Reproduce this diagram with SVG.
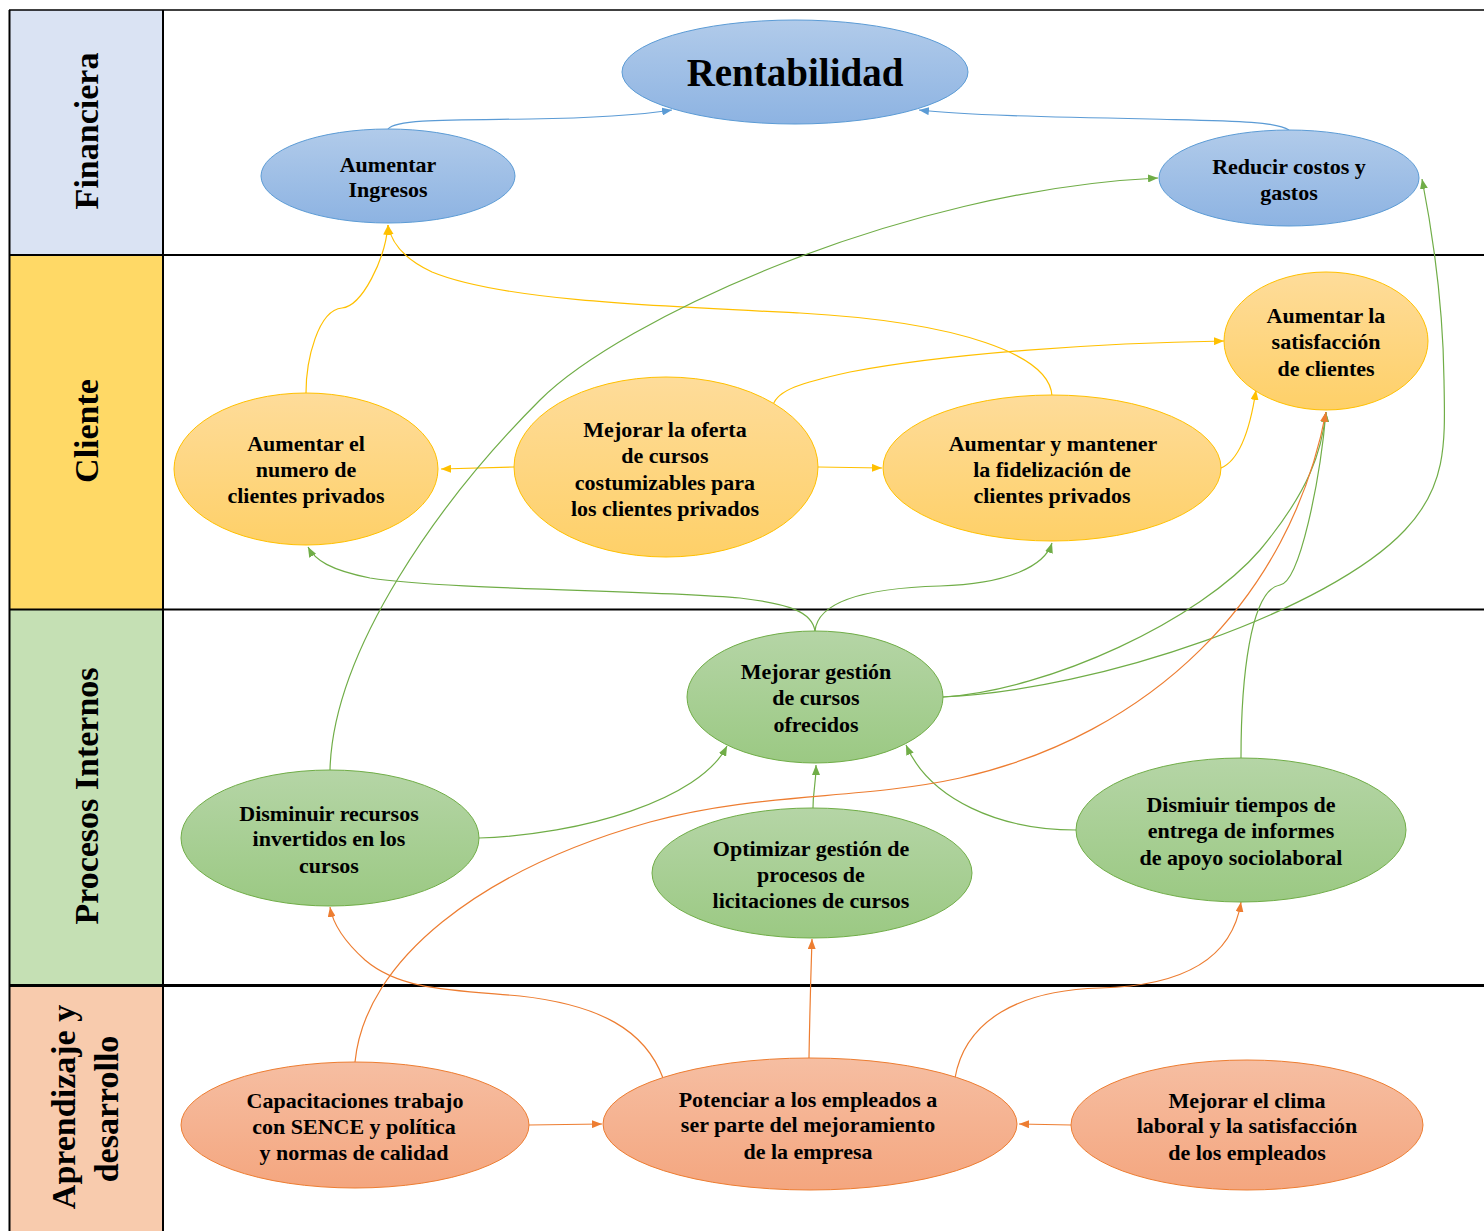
<svg xmlns="http://www.w3.org/2000/svg" width="1484" height="1231" viewBox="0 0 1484 1231">
  <defs>
    <linearGradient id="gBlue" x1="0" y1="0" x2="0" y2="1">
      <stop offset="0" stop-color="#B1CBEA"/>
      <stop offset="1" stop-color="#8DB3E2"/>
    </linearGradient>
    <linearGradient id="gYellow" x1="0" y1="0" x2="0" y2="1">
      <stop offset="0" stop-color="#FEDC9A"/>
      <stop offset="1" stop-color="#FED068"/>
    </linearGradient>
    <linearGradient id="gGreen" x1="0" y1="0" x2="0" y2="1">
      <stop offset="0" stop-color="#B5D5A6"/>
      <stop offset="1" stop-color="#9BC983"/>
    </linearGradient>
    <linearGradient id="gOrange" x1="0" y1="0" x2="0" y2="1">
      <stop offset="0" stop-color="#F6BEA2"/>
      <stop offset="1" stop-color="#F4A67F"/>
    </linearGradient>
    <marker id="aBlue" viewBox="0 0 10 8" refX="10" refY="4" markerWidth="10" markerHeight="8" markerUnits="userSpaceOnUse" orient="auto">
      <path d="M0,0 L10,4 L0,8 Z" fill="#5B9BD5"/>
    </marker>
    <marker id="aYellow" viewBox="0 0 10 8" refX="10" refY="4" markerWidth="10" markerHeight="8" markerUnits="userSpaceOnUse" orient="auto">
      <path d="M0,0 L10,4 L0,8 Z" fill="#FFC000"/>
    </marker>
    <marker id="aGreen" viewBox="0 0 10 8" refX="10" refY="4" markerWidth="10" markerHeight="8" markerUnits="userSpaceOnUse" orient="auto">
      <path d="M0,0 L10,4 L0,8 Z" fill="#70AD47"/>
    </marker>
    <marker id="aOrange" viewBox="0 0 10 8" refX="10" refY="4" markerWidth="10" markerHeight="8" markerUnits="userSpaceOnUse" orient="auto">
      <path d="M0,0 L10,4 L0,8 Z" fill="#ED7D31"/>
    </marker>
  </defs>
  <style>
    .lane-label { font-family: "Liberation Serif", "Times New Roman", serif; font-weight: bold; font-size: 34px; fill: #000; text-anchor: middle; }
    .node-text { font-family: "Liberation Serif", "Times New Roman", serif; font-weight: bold; font-size: 22px; fill: #000; text-anchor: middle; }
    .title-text { font-family: "Liberation Serif", "Times New Roman", serif; font-weight: bold; font-size: 39px; fill: #000; text-anchor: middle; }
    .n-blue { fill: url(#gBlue); stroke: #5B9BD5; stroke-width: 1; }
    .n-yellow { fill: url(#gYellow); stroke: #FFC000; stroke-width: 1; }
    .n-green { fill: url(#gGreen); stroke: #70AD47; stroke-width: 1; }
    .n-orange { fill: url(#gOrange); stroke: #ED7D31; stroke-width: 1; }
    .c-blue { fill: none; stroke: #5B9BD5; stroke-width: 1.2; marker-end: url(#aBlue); }
    .c-yellow { fill: none; stroke: #FFC000; stroke-width: 1.2; marker-end: url(#aYellow); }
    .c-green { fill: none; stroke: #70AD47; stroke-width: 1.2; marker-end: url(#aGreen); }
    .c-orange { fill: none; stroke: #ED7D31; stroke-width: 1.2; marker-end: url(#aOrange); }
    .grid { stroke: #000; fill: none; }
  </style>

  <rect x="0" y="0" width="1484" height="1231" fill="#FFFFFF"/>

  <!-- perspective lanes -->
  <g id="lanes">
    <rect x="10" y="10" width="153" height="245" fill="#DAE3F3"/>
    <rect x="10" y="255" width="153" height="354" fill="#FFD966"/>
    <rect x="10" y="609" width="153" height="376" fill="#C5E0B4"/>
    <rect x="10" y="985" width="153" height="246" fill="#F8CBAD"/>
    <line class="grid" x1="9" y1="10" x2="1484" y2="10" stroke-width="1.5"/>
    <line class="grid" x1="9" y1="255" x2="1484" y2="255" stroke-width="2.2"/>
    <line class="grid" x1="9" y1="609.5" x2="1484" y2="609.5" stroke-width="2.2"/>
    <line class="grid" x1="9" y1="985.5" x2="1484" y2="985.5" stroke-width="3"/>
    <line class="grid" x1="9.5" y1="10" x2="9.5" y2="1231" stroke-width="2"/>
    <line class="grid" x1="163" y1="10" x2="163" y2="1231" stroke-width="2"/>
    <text class="lane-label" transform="translate(98,131) rotate(-90)">Financiera</text>
    <text class="lane-label" transform="translate(98,431) rotate(-90)">Cliente</text>
    <text class="lane-label" transform="translate(98,796) rotate(-90)">Procesos Internos</text>
    <text class="lane-label" transform="translate(75,1107) rotate(-90)">Aprendizaje y</text>
    <text class="lane-label" transform="translate(118,1109) rotate(-90)">desarrollo</text>
  </g>

  <!-- connectors -->
  <g id="connectors">
    <!-- financial -->
    <path class="c-blue" d="M388,129 C396,119 450,120 530,119 C600,118 640,115 672,110"/>
    <path class="c-blue" d="M1289,130 C1275,121 1230,121 1150,119 C1050,117 960,115 919,110"/>
    <!-- customer -->
    <path class="c-yellow" d="M306,393 C306,360 318,310 342,308 C362,306 385,260 388,225"/>
    <path class="c-yellow" d="M1052,396 C1050,355 960,322 800,313 C650,306 500,300 432,272 C402,258 391,242 388,225"/>
    <path class="c-yellow" d="M514,467 L441,469"/>
    <path class="c-yellow" d="M818,467 L882,468"/>
    <path class="c-yellow" d="M773,405 C778,390 800,383 850,372 C950,353 1100,343 1224,341"/>
    <path class="c-yellow" d="M1221,468 C1240,460 1250,430 1256,390"/>
    <!-- internal processes -->
    <path class="c-green" d="M815,631 C812,612 790,604 740,598 C650,590 450,590 370,578 C330,570 315,560 308,547"/>
    <path class="c-green" d="M815,631 C818,600 870,588 940,586 C1010,584 1045,565 1052,543"/>
    <path class="c-green" d="M330,770 C333,650 440,500 540,400 C620,320 900,190 1158,178"/>
    <path class="c-green" d="M943,697 C1050,690 1200,620 1260,550 C1310,490 1322,450 1326,412"/>
    <path class="c-green" d="M943,697 C1100,690 1330,610 1405,530 C1448,485 1445,440 1444,380 C1443,300 1432,230 1422,179"/>
    <path class="c-green" d="M479,838 C580,835 700,800 727,746"/>
    <path class="c-green" d="M813,808 C813,790 816,785 816,765"/>
    <path class="c-green" d="M1076,830 C1000,830 930,800 906,745"/>
    <path class="c-green" d="M1241,758 C1241,680 1250,590 1280,585 C1300,582 1320,480 1326,412"/>
    <!-- learning and growth -->
    <path class="c-orange" d="M355,1062 C365,960 480,870 650,822 C760,792 860,800 960,778 C1150,735 1290,600 1326,412"/>
    <path class="c-orange" d="M663,1078 C645,1030 600,1005 520,996 C450,990 400,990 365,960 C345,942 333,925 330,907"/>
    <path class="c-orange" d="M809,1058 C810,1000 811,970 812,939"/>
    <path class="c-orange" d="M955,1078 C965,1020 1020,990 1100,988 C1180,986 1232,960 1241,902"/>
    <path class="c-orange" d="M529,1125 L602,1124"/>
    <path class="c-orange" d="M1071,1125 L1019,1124"/>
  </g>

  <!-- Financiera -->
  <g id="rentabilidad">
    <ellipse class="n-blue" cx="795" cy="72" rx="173" ry="52"/>
    <text class="title-text" x="795" y="86">Rentabilidad</text>
  </g>
  <g id="aumentar-ingresos">
    <ellipse class="n-blue" cx="388" cy="176" rx="127" ry="47"/>
    <text class="node-text" x="388" y="172">Aumentar</text>
    <text class="node-text" x="388" y="197">Ingresos</text>
  </g>
  <g id="reducir-costos">
    <ellipse class="n-blue" cx="1289" cy="178" rx="130" ry="48"/>
    <text class="node-text" x="1289" y="174">Reducir costos y</text>
    <text class="node-text" x="1289" y="200">gastos</text>
  </g>

  <!-- Cliente -->
  <g id="satisfaccion-clientes">
    <ellipse class="n-yellow" cx="1326" cy="341" rx="102" ry="69"/>
    <text class="node-text" x="1326" y="323">Aumentar la</text>
    <text class="node-text" x="1326" y="349">satisfacción</text>
    <text class="node-text" x="1326" y="376">de clientes</text>
  </g>
  <g id="numero-clientes">
    <ellipse class="n-yellow" cx="306" cy="469" rx="132" ry="76"/>
    <text class="node-text" x="306" y="451">Aumentar el</text>
    <text class="node-text" x="306" y="477">numero de</text>
    <text class="node-text" x="306" y="503">clientes privados</text>
  </g>
  <g id="oferta-cursos">
    <ellipse class="n-yellow" cx="666" cy="467" rx="152" ry="90"/>
    <text class="node-text" x="665" y="437">Mejorar la oferta</text>
    <text class="node-text" x="665" y="463">de cursos</text>
    <text class="node-text" x="665" y="490">costumizables para</text>
    <text class="node-text" x="665" y="516">los clientes privados</text>
  </g>
  <g id="fidelizacion">
    <ellipse class="n-yellow" cx="1052" cy="468" rx="169" ry="73"/>
    <text class="node-text" x="1053" y="451">Aumentar y mantener</text>
    <text class="node-text" x="1052" y="477">la fidelización de</text>
    <text class="node-text" x="1052" y="503">clientes privados</text>
  </g>

  <!-- Procesos Internos -->
  <g id="gestion-cursos">
    <ellipse class="n-green" cx="815" cy="697" rx="128" ry="66"/>
    <text class="node-text" x="816" y="679">Mejorar gestión</text>
    <text class="node-text" x="816" y="705">de cursos</text>
    <text class="node-text" x="816" y="732">ofrecidos</text>
  </g>
  <g id="disminuir-recursos">
    <ellipse class="n-green" cx="330" cy="838" rx="149" ry="68"/>
    <text class="node-text" x="329" y="821">Disminuir recursos</text>
    <text class="node-text" x="329" y="846">invertidos en los</text>
    <text class="node-text" x="329" y="873">cursos</text>
  </g>
  <g id="licitaciones">
    <ellipse class="n-green" cx="812" cy="873" rx="160" ry="65"/>
    <text class="node-text" x="811" y="856">Optimizar gestión de</text>
    <text class="node-text" x="811" y="882">procesos de</text>
    <text class="node-text" x="811" y="908">licitaciones de cursos</text>
  </g>
  <g id="tiempos-informes">
    <ellipse class="n-green" cx="1241" cy="830" rx="165" ry="72"/>
    <text class="node-text" x="1241" y="812">Dismiuir tiempos de</text>
    <text class="node-text" x="1241" y="838">entrega de informes</text>
    <text class="node-text" x="1241" y="865">de apoyo sociolaboral</text>
  </g>

  <!-- Aprendizaje y desarrollo -->
  <g id="capacitaciones">
    <ellipse class="n-orange" cx="355" cy="1125" rx="174" ry="63"/>
    <text class="node-text" x="355" y="1108">Capacitaciones trabajo</text>
    <text class="node-text" x="354" y="1134">con SENCE y política</text>
    <text class="node-text" x="354" y="1160">y normas de calidad</text>
  </g>
  <g id="potenciar-empleados">
    <ellipse class="n-orange" cx="810" cy="1124" rx="207" ry="66"/>
    <text class="node-text" x="808" y="1107">Potenciar a los empleados a</text>
    <text class="node-text" x="808" y="1132">ser parte del mejoramiento</text>
    <text class="node-text" x="808" y="1159">de la empresa</text>
  </g>
  <g id="clima-laboral">
    <ellipse class="n-orange" cx="1247" cy="1125" rx="176" ry="65"/>
    <text class="node-text" x="1247" y="1108">Mejorar el clima</text>
    <text class="node-text" x="1247" y="1133">laboral y la satisfacción</text>
    <text class="node-text" x="1247" y="1160">de los empleados</text>
  </g>
</svg>
